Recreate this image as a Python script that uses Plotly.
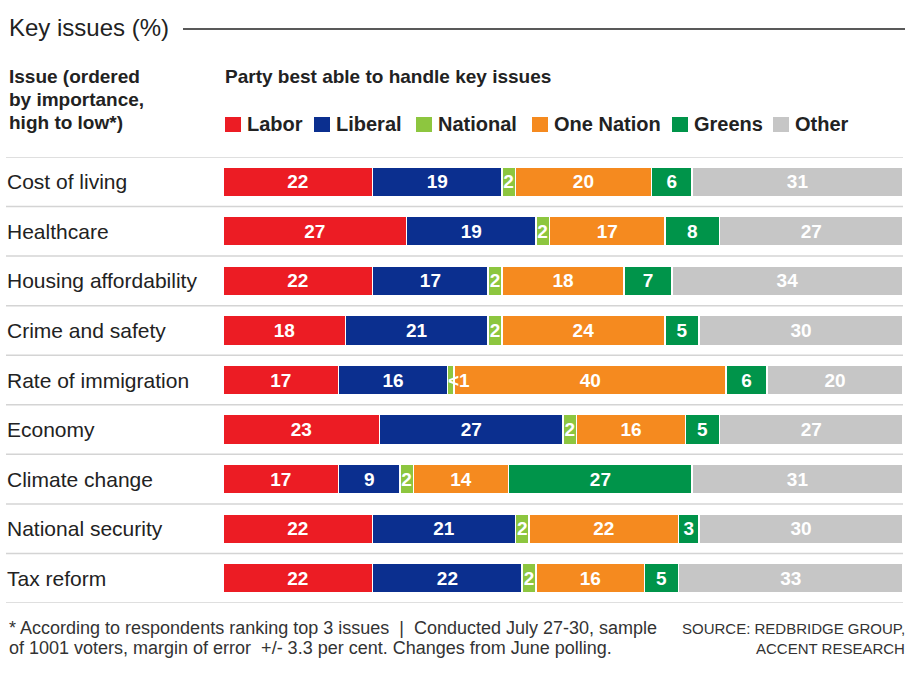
import plotly.graph_objects as go

# Données (%)
issues = ['Cost of living', 'Healthcare', 'Housing affordability', 'Crime and safety',
          'Rate of immigration', 'Economy', 'Climate change', 'National security', 'Tax reform']
labor = [22, 27, 22, 18, 17, 23, 17, 22, 22]
liberal = [19, 19, 17, 21, 16, 27, 9, 21, 22]
national = [2, 2, 2, 2, 1, 2, 2, 2, 2]
national_labels = ['2', '2', '2', '2', '', '2', '2', '2', '2']
one_nation = [20, 17, 18, 24, 40, 16, 14, 22, 16]
greens = [6, 8, 7, 5, 6, 5, 27, 3, 5]
other = [31, 27, 34, 30, 20, 27, 31, 30, 33]

parties = ['Labor', 'Liberal', 'National', 'One Nation', 'Greens', 'Other']
colors = ['#ec1c24', '#0b2f8f', '#8dc63f', '#f58a1f', '#00944a', '#c6c6c6']
series = [labor, liberal, national, one_nation, greens, other]
labels = [[str(v) for v in labor], [str(v) for v in liberal], national_labels,
          [str(v) for v in one_nation], [str(v) for v in greens], [str(v) for v in other]]

W, H = 917, 673
PLOT_L, PLOT_R, PLOT_T, PLOT_B = 223, 903, 157, 603
L, R, T, B = PLOT_L, W - PLOT_R, PLOT_T, H - PLOT_B
PW, PH = PLOT_R - PLOT_L, PLOT_B - PLOT_T
FONT = 'Liberation Sans, Arial, sans-serif'
TXT = '#222222'


def px(x):
    return (x - PLOT_L) / PW


def py(y):
    return (PLOT_B - y) / PH


def note(text, x, y, size, anchor='left', bold=False, color=TXT):
    if bold:
        text = f'<b>{text}</b>'
    return dict(text=text, x=px(x), y=py(y), xref='paper', yref='paper', xanchor=anchor,
                yanchor='middle', showarrow=False, font=dict(family=FONT, size=size, color=color))


fig = go.Figure()
for name, vals, col, txt in zip(parties, series, colors, labels):
    fig.add_trace(go.Bar(
        y=issues, x=vals, name=name, orientation='h', width=0.6,
        marker=dict(color=col, line=dict(color='white', width=1.5)),
        text=txt, textposition='inside', insidetextanchor='middle',
        constraintext='none', cliponaxis=False,
        textfont=dict(family=FONT, size=19, color='white', weight='bold'),
        hoverinfo='name+x'))

shapes = []
annotations = []

# Titre et ligne
annotations.append(note('Key issues (%)', 7, 27, 24))
shapes.append(dict(type='line', xref='paper', yref='paper', x0=px(183), x1=px(905),
                   y0=py(29), y1=py(29), line=dict(color='#222222', width=1.5)))

# En-têtes
for line, yy in zip(['Issue (ordered', 'by importance,', 'high to low*)'], [76, 99, 122]):
    annotations.append(note(line, 7, yy, 19, bold=True))
annotations.append(note('Party best able to handle key issues', 223, 76, 19, bold=True))

# Légende
legend_x = [225, 314, 416, 532, 672, 773]
for name, col, lx in zip(parties, colors, legend_x):
    shapes.append(dict(type='rect', xref='paper', yref='paper', x0=px(lx), x1=px(lx + 16),
                       y0=py(132), y1=py(117), fillcolor=col, line=dict(width=0)))
    annotations.append(note(name, lx + 20, 124, 20, bold=True))

# Lignes de séparation et libellés des enjeux
for i in range(len(issues) + 1):
    shapes.append(dict(type='line', xref='paper', yref='y', x0=px(6), x1=1.0,
                       y0=i - 0.5, y1=i - 0.5, line=dict(color='#d4d4d4', width=1.5)))
for issue in issues:
    annotations.append(dict(text=issue, x=px(5), y=issue, xref='paper', yref='y',
                            xanchor='left', yanchor='middle', showarrow=False,
                            font=dict(family=FONT, size=21, color=TXT)))

# Libellé "<1" pour National, trop étroit pour le texte intérieur
imm = issues.index('Rate of immigration')
annotations.append(dict(text='<b>&lt;1</b>', x=labor[imm] + liberal[imm] + national[imm] / 2,
                        y=issues[imm], xref='x', yref='y', xanchor='center', xshift=8,
                        showarrow=False, font=dict(family=FONT, size=19, color='white')))

# Notes
annotations.append(note('* According to respondents ranking top 3 issues  |  Conducted July 27-30, sample',
                        7, 628, 18, color='#333333'))
annotations.append(note('of 1001 voters, margin of error  +/- 3.3 per cent. Changes from June polling.',
                        7, 648, 18, color='#333333'))
annotations.append(note('SOURCE: REDBRIDGE GROUP,', 907, 628, 15, anchor='right', color='#333333'))
annotations.append(note('ACCENT RESEARCH', 907, 648, 15, anchor='right', color='#333333'))

fig.update_layout(
    width=W, height=H, barmode='stack', showlegend=False,
    margin=dict(l=L, r=R, t=T, b=B),
    paper_bgcolor='white', plot_bgcolor='white',
    xaxis=dict(range=[0, 100], visible=False, fixedrange=True),
    yaxis=dict(categoryorder='array', categoryarray=issues, autorange=False,
               range=[len(issues) - 0.5, -0.5], visible=False),
    shapes=shapes, annotations=annotations,
    font=dict(family=FONT, color=TXT))

# Supprimer la marge par défaut de la page pour que la figure remplisse la fenêtre
fig.write_html('out.html', config={'displayModeBar': False},
               post_script="document.body.style.margin='0';")
